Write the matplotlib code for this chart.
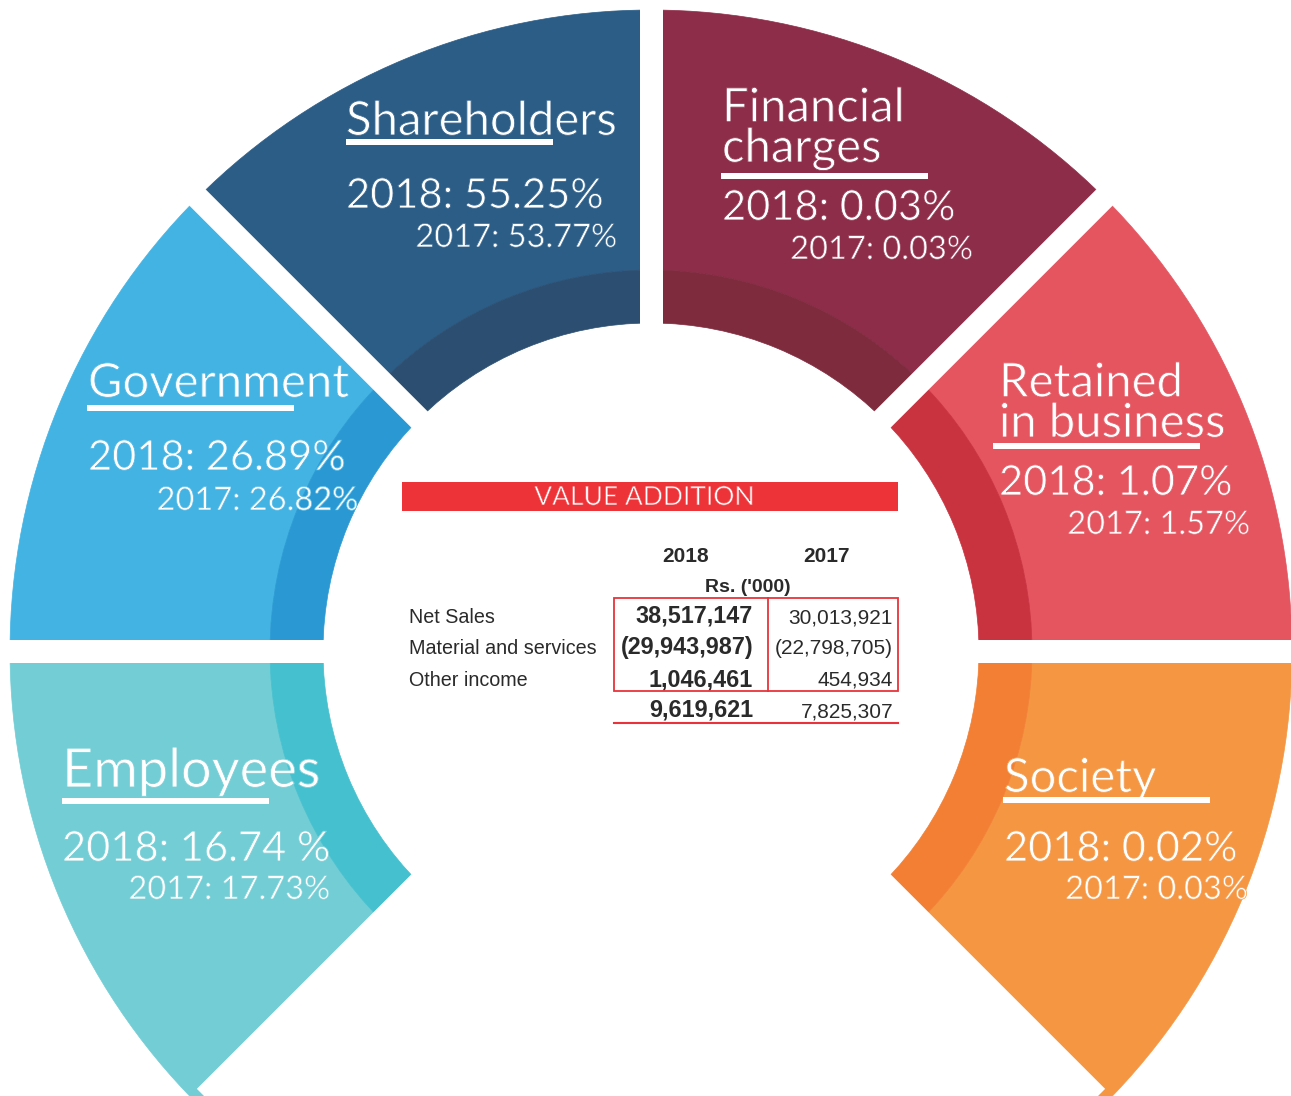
import matplotlib
matplotlib.use("Agg")
import matplotlib.pyplot as plt
from matplotlib.patches import Wedge, Rectangle
import matplotlib.patheffects as pe
import numpy as np

# ---------------- data ----------------
categories = ["Shareholders", "Financial\ncharges", "Retained\nin business", "Society", "Government", "Employees"]
pct_2018 = ["55.25%", "0.03%", "1.07%", "0.02%", "26.89%", "16.74 %"]
pct_2017 = ["53.77%", "0.03%", "1.57%", "0.03%", "26.82%", "17.73%"]

table_rows = ["Net Sales", "Material and services", "Other income", ""]
table_2018 = ["38,517,147", "(29,943,987)", "1,046,461", "9,619,621"]
table_2017 = ["30,013,921", "(22,798,705)", "454,934", "7,825,307"]
table_years = ["2018", "2017"]
table_unit = "Rs. ('000)"
table_title = "VALUE ADDITION"

# ---------------- layout / style ----------------
W, H = 1291, 1096
CX, CY = 651, 651
R_IN, R_BAND, R_OUT = 328, 381, 641
GAP = 23

main_colors = ["#2B5D87", "#8E2D49", "#E45560", "#F59642", "#43B3E3", "#72CDD5"]
band_colors = ["#2C4F71", "#7F2B3E", "#C9323F", "#F27F33", "#2A99D3", "#45C0CF"]
angles = [(90, 135), (45, 90), (0, 45), (-45, 0), (135, 180), (180, 225)]

# label positions (image px)
label_pos = [
    dict(x=346, ty=135, ul=(346, 553, 142), y18=208, x17=617, y17=247, ts=34),
    dict(x=722, ty=162, ul=(721, 928, 176), y18=220, x17=973, y17=259, ts=34),
    dict(x=999, ty=437, ul=(993, 1200, 446), y18=495, x17=1250, y17=534, ts=34),
    dict(x=1004, ty=792, ul=(1003, 1210, 800), y18=861, x17=1248, y17=899, ts=34),
    dict(x=88, ty=397, ul=(87, 294, 408), y18=470, x17=358, y17=510, ts=34),
    dict(x=62, ty=787, ul=(62, 269, 801), y18=861, x17=330, y17=899, ts=39),
]

SEG_FONT = dict(family=["Lato", "DejaVu Sans"], weight="normal")
TAB_FONT = ["Liberation Sans", "DejaVu Sans"]


def Y(y):
    return H - y


def thin(col, w=0.6):
    return [pe.Normal(), pe.Stroke(linewidth=w, foreground=col)]


fig = plt.figure(figsize=(W / 100, H / 100), dpi=100)
ax = fig.add_axes([0, 0, 1, 1])
ax.set_xlim(0, W)
ax.set_ylim(0, H)
ax.axis("off")
ax.set_aspect("equal")

c = (CX, Y(CY))
for (t1, t2), mc, bc in zip(angles, main_colors, band_colors):
    ax.add_patch(Wedge(c, R_OUT, t1, t2, width=R_OUT - R_BAND, facecolor=mc, edgecolor=mc, lw=0.5))
    ax.add_patch(Wedge(c, R_BAND, t1, t2, width=R_BAND - R_IN, facecolor=bc, edgecolor=bc, lw=0.5))

# white gaps between segments
for a in [0, 45, 90, 135, 180, 225, 315]:
    th = np.deg2rad(a)
    ax.plot([c[0], c[0] + (R_OUT + 30) * np.cos(th)], [c[1], c[1] + (R_OUT + 30) * np.sin(th)],
            color="white", lw=GAP * 0.72, solid_capstyle="butt", zorder=3)

# segment labels
for name, p18, p17, lp, mc in zip(categories, pct_2018, pct_2017, label_pos, main_colors):
    ax.text(lp["x"], Y(lp["ty"]), name, color="white", fontsize=lp["ts"], ha="left", va="baseline",
            linespacing=0.95, zorder=5, path_effects=thin(mc), **SEG_FONT)
    x0, x1, uy = lp["ul"]
    ax.add_patch(Rectangle((x0, Y(uy) - 3), x1 - x0, 6, facecolor="white", edgecolor="none", zorder=5))
    ax.text(lp["x"], Y(lp["y18"]), "2018: " + p18, color="white", fontsize=30, ha="left", va="baseline",
            zorder=5, path_effects=thin(mc), **SEG_FONT)
    ax.text(lp["x17"], Y(lp["y17"]), "2017: " + p17, color="white", fontsize=23.5, ha="right", va="baseline",
            zorder=5, path_effects=thin(mc, 0.5), **SEG_FONT)

# centre table
ax.add_patch(Rectangle((402, Y(511)), 898 - 402, 29, facecolor="#EE3338", edgecolor="none", zorder=4))
ax.text(644, Y(505), table_title, color="white", fontsize=19, ha="center", va="baseline", zorder=5,
        path_effects=thin("#EE3338", 0.5), **SEG_FONT)

txt = "#2A2A2A"
ax.text(686, Y(562), table_years[0], color=txt, fontsize=15, fontweight="bold", ha="center", va="baseline", family=TAB_FONT)
ax.text(827, Y(562), table_years[1], color=txt, fontsize=15, fontweight="bold", ha="center", va="baseline", family=TAB_FONT)
ax.text(748, Y(592), table_unit, color=txt, fontsize=14, fontweight="bold", ha="center", va="baseline", family=TAB_FONT)

row_y = [623, 654, 686, 717]
for lab, v18, v17, ry in zip(table_rows, table_2018, table_2017, row_y):
    ax.text(409, Y(ry), lab, color=txt, fontsize=14.2, ha="left", va="baseline", family=TAB_FONT)
    ax.text(753, Y(ry), v18, color=txt, fontsize=16.8, fontweight="bold", ha="right", va="baseline", family=TAB_FONT)
    ax.text(893, Y(ry), v17, color=txt, fontsize=15, ha="right", va="baseline", family=TAB_FONT)

red = "#E8333A"
ax.add_patch(Rectangle((614, Y(691)), 898 - 614, 691 - 598, facecolor="none", edgecolor=red, lw=1.3, zorder=4))
ax.plot([768, 768], [Y(598), Y(691)], color=red, lw=1.3, zorder=4)
ax.plot([614, 898], [Y(723), Y(723)], color=red, lw=1.5, zorder=4)

fig.savefig("out.png", dpi=100, facecolor="white")
